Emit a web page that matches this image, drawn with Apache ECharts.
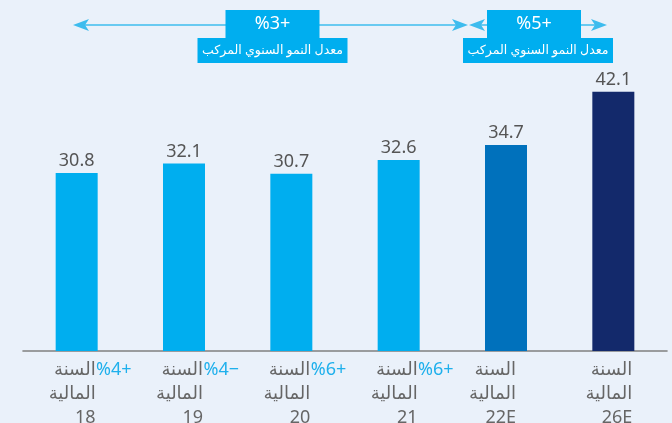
<!DOCTYPE html>
<html>
<head>
<meta charset="utf-8">
<script src="https://cdn.jsdelivr.net/npm/echarts@6/dist/echarts.min.js"></script>
<style>
html,body{margin:0;padding:0;background:#EAF1FA;}
#c{width:672px;height:423px;}
</style>
</head>
<body>
<div id="c"></div>
<script>
// ---- data ----
var years = ['18', '19', '20', '21', '22E', '26E'];
var growth = ['+4%', '-4%', '+6%', '+6%', '', ''];
var values = [30.8, 32.1, 30.7, 32.6, 34.7, 42.1];
var cagrValues = ['+3%', '+5%'];
var labelLine1 = 'السنة';
var labelLine2 = 'المالية';
var cagrCaption = 'معدل النمو السنوي المركب';

// ---- styling ----
var FONT = "'Noto Sans', 'DejaVu Sans', sans-serif";
var barColors = ['#00AEEF', '#00AEEF', '#00AEEF', '#00AEEF', '#0071BC', '#13296B'];
var BLUE = '#00AEEF';
var LINE = '#3EBCEE';
// visual (right-to-left) rendering of a signed percentage, e.g. "+4%" -> "%4+"
function rlo(s) { return s ? '\u202E' + s.replace('-', '\u2212') + '\u202C' : ' '; }

var chart = echarts.init(document.getElementById('c'), null, {renderer: 'canvas'});

function arrowHead(tipX, y, dir) {
  var len = 16, half = 6, notch = 4;
  return {
    type: 'polygon',
    shape: {points: [[tipX, y], [tipX - dir * len, y - half], [tipX - dir * (len - notch), y], [tipX - dir * len, y + half]]},
    style: {fill: LINE}, z: 10
  };
}

function cagrBox(cx, capCx, txt) {
  return [
    {type: 'rect', shape: {x: cx - 47, y: 10, width: 94, height: 28}, style: {fill: BLUE}, z: 11},
    {type: 'text', style: {x: cx, y: 24, text: rlo(txt), fill: '#fff', font: '18px ' + FONT, align: 'center', verticalAlign: 'middle'}, z: 12},
    {type: 'rect', shape: {x: capCx - 75, y: 38, width: 150, height: 25}, style: {fill: BLUE}, z: 11},
    {type: 'text', style: {x: capCx, y: 50.5, text: cagrCaption, fill: '#fff', font: '12.5px ' + FONT, align: 'center', verticalAlign: 'middle'}, z: 12}
  ];
}

var graphics = [
  {type: 'line', shape: {x1: 82, y1: 25, x2: 462, y2: 25}, style: {stroke: LINE, lineWidth: 1.6}, z: 9},
  arrowHead(73, 25, -1),
  arrowHead(468, 25, 1),
  {type: 'line', shape: {x1: 476, y1: 25, x2: 600, y2: 25}, style: {stroke: LINE, lineWidth: 1.6}, z: 9},
  arrowHead(469, 25, -1),
  arrowHead(607, 25, 1)
].concat(cagrBox(272.5, 272.5, cagrValues[0]), cagrBox(534, 538, cagrValues[1]));

var option = {
  backgroundColor: '#EAF1FA',
  animation: false,
  grid: {left: 23, right: 5, top: 71, bottom: 72, outerBoundsMode: 'none', containLabel: false},
  xAxis: {
    type: 'category',
    data: years,
    axisLine: {lineStyle: {color: '#808080', width: 1.6}},
    axisTick: {show: false},
    axisLabel: {
      interval: 0,
      margin: 7,
      align: 'center',
      formatter: function (v, i) {
        var g = (v === '22E') ? 'h' : 'g';
        return '{' + g + '|' + labelLine1 + '}{b|' + rlo(growth[i]) + '}\n' +
               '{' + g + '|' + labelLine2 + '}{s| }\n' +
               '{' + g + '|' + v + '}{s| }';
      },
      rich: {
        g: {width: 74, align: 'right', color: '#666', fontSize: 18, lineHeight: 24, fontFamily: FONT},
        h: {width: 56, align: 'right', color: '#666', fontSize: 18, lineHeight: 24, fontFamily: FONT},
        b: {width: 36, align: 'right', color: '#1FB0EC', fontSize: 18, lineHeight: 24, fontFamily: FONT},
        s: {width: 36, align: 'right', fontSize: 18, lineHeight: 24}
      }
    }
  },
  yAxis: {type: 'value', min: 6, max: 45, show: false},
  series: [{
    type: 'bar',
    barWidth: 42,
    data: values,
    itemStyle: {color: function (p) { return barColors[p.dataIndex]; }},
    label: {show: true, position: 'top', distance: 3, color: '#555', fontSize: 18, fontFamily: FONT}
  }],
  graphic: graphics
};
chart.setOption(option);
</script>
</body>
</html>
